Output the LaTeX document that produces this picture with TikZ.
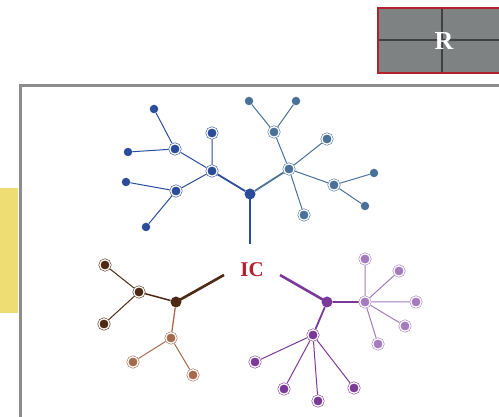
\documentclass[tikz,border=0pt]{standalone}
\usepackage{fontspec}
\setmainfont{Liberation Serif}
\usepackage{xcolor}
\usepackage{tikz}
\usetikzlibrary{positioning}
\definecolor{azulosc}{HTML}{2B4C9B}
\definecolor{azulcla}{HTML}{4A7199}
\definecolor{cafeosc}{HTML}{4E2A14}
\definecolor{cafecla}{HTML}{A86A4C}
\definecolor{moradoosc}{HTML}{7B3A99}
\definecolor{moradocla}{HTML}{A47BBE}
\definecolor{rojo}{HTML}{B5202E}
\definecolor{grisr}{HTML}{7F8283}
\definecolor{amarillo}{HTML}{EEDD72}
\definecolor{marco}{HTML}{8C8C8C}

\begin{document}
\begin{tikzpicture}[
  x=1pt, y=-1pt,
  punto/.style={circle, fill=#1, inner sep=0pt, minimum size=8.5pt},
  anillo/.style={circle, fill=#1, draw=#1, double=white, double distance=1.3pt, line width=0.55pt, inner sep=0pt, minimum size=10.5pt, outer sep=1.2pt},
  raiz/.style={circle, fill=#1, inner sep=0pt, minimum size=11pt},
  rama/.style={draw=#1, line width=1pt},
  brazo/.style={draw=#1, line width=1.8pt},
  tronco/.style={draw=#1, line width=2.6pt}
]
  \useasboundingbox (0,0) rectangle (499,417);
  \fill[amarillo] (0,188) rectangle (18,313);
  \draw[marco, line width=3pt] (20,430) -- (20,86) -- (510,86);
  \fill[grisr] (378,8) rectangle (510,73);
  \draw[black!75, line width=1.3pt] (442,8) -- (442,73) (378,40) -- (510,40);
  \draw[rojo, line width=2.5pt] (378,8) rectangle (510,73);
  \node[text=white, font=\fontsize{26}{30}\selectfont\bfseries] (r) at (444,41) {R};

  \node[text=rojo, font=\fontsize{21}{25}\selectfont\bfseries] (ic) at (252,270) {IC};

  \node[raiz=azulosc] (b0) at (250,194) {};
  \coordinate (bt) at (250,244);
  \node[anillo=azulosc] (b1) at (212,171) {};
  \node[anillo=azulosc] (b11) at (212,133) {};
  \node[anillo=azulosc] (b12) at (175,149) {};
  \node[punto=azulosc] (b121) at (154,109) {};
  \node[punto=azulosc] (b122) at (128,152) {};
  \node[anillo=azulosc] (b13) at (176,191) {};
  \node[punto=azulosc] (b131) at (126,182) {};
  \node[punto=azulosc] (b132) at (146,227) {};
  \node[anillo=azulcla] (b2) at (289,169) {};
  \node[anillo=azulcla] (b21) at (274,132) {};
  \node[punto=azulcla] (b211) at (249,101) {};
  \node[punto=azulcla] (b212) at (296,101) {};
  \node[anillo=azulcla] (b22) at (327,139) {};
  \node[anillo=azulcla] (b23) at (334,185) {};
  \node[punto=azulcla] (b231) at (374,173) {};
  \node[punto=azulcla] (b232) at (365,206) {};
  \node[anillo=azulcla] (b24) at (304,215) {};
  \draw[tronco=azulosc] (b0.center) -- (bt);
  \draw[brazo=azulosc] (b0) -- (b1);
  \draw[brazo=azulcla] (b0) -- (b2);
  \draw[rama=azulosc] (b1) -- (b11) (b1) -- (b12) (b1) -- (b13)
    (b12) -- (b121) (b12) -- (b122) (b13) -- (b131) (b13) -- (b132);
  \draw[rama=azulcla] (b2) -- (b21) (b2) -- (b22) (b2) -- (b23) (b2) -- (b24)
    (b21) -- (b211) (b21) -- (b212) (b23) -- (b231) (b23) -- (b232);

  \node[raiz=cafeosc] (c0) at (176,302) {};
  \coordinate (ct) at (224,275);
  \node[anillo=cafeosc] (c1) at (139,292) {};
  \node[anillo=cafeosc] (c11) at (105,265) {};
  \node[anillo=cafeosc] (c12) at (104,324) {};
  \node[anillo=cafecla] (c2) at (171,338) {};
  \node[anillo=cafecla] (c21) at (133,362) {};
  \node[anillo=cafecla] (c22) at (193,375) {};
  \draw[tronco=cafeosc] (c0.center) -- (ct);
  \draw[brazo=cafeosc, line width=1.5pt] (c0) -- (c1);
  \draw[rama=cafeosc] (c1) -- (c11) (c1) -- (c12);
  \draw[rama=cafecla, line width=1.3pt] (c0) -- (c2);
  \draw[rama=cafecla] (c2) -- (c21) (c2) -- (c22);

  \node[raiz=moradoosc] (m0) at (327,302) {};
  \coordinate (mt) at (280,275);
  \node[anillo=moradocla] (m1) at (365,302) {};
  \node[anillo=moradocla] (m11) at (365,259) {};
  \node[anillo=moradocla] (m12) at (399,271) {};
  \node[anillo=moradocla] (m13) at (416,302) {};
  \node[anillo=moradocla] (m14) at (405,326) {};
  \node[anillo=moradocla] (m15) at (378,344) {};
  \node[anillo=moradoosc] (m2) at (313,335) {};
  \node[anillo=moradoosc] (m21) at (255,362) {};
  \node[anillo=moradoosc] (m22) at (284,389) {};
  \node[anillo=moradoosc] (m23) at (318,401) {};
  \node[anillo=moradoosc] (m24) at (354,388) {};
  \draw[tronco=moradoosc] (m0.center) -- (mt);
  \draw[brazo=moradoosc] (m0) -- (m1) (m0) -- (m2);
  \draw[rama=moradocla] (m1) -- (m11) (m1) -- (m12) (m1) -- (m13) (m1) -- (m14) (m1) -- (m15);
  \draw[rama=moradoosc] (m2) -- (m21) (m2) -- (m22) (m2) -- (m23) (m2) -- (m24);
\end{tikzpicture}
\end{document}
